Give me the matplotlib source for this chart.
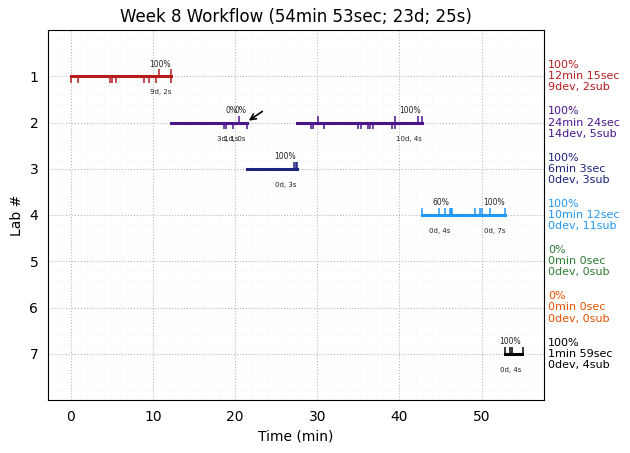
#!/usr/bin/env python
"""Timeline of labs for the week 8 workflow."""

import matplotlib
matplotlib.use("Agg")
import matplotlib.pyplot as plt

# lab number, colours and right hand summaries
LABS = [1, 2, 3, 4, 5, 6, 7]
COLOURS = ["#b71c1c", "#4a148c", "#1a237e", "#2196f3", "#2e7d32", "#e65100", "#000000"]
SUMMARIES = [
    "100%\n12min 15sec\n9dev, 2sub",
    "100%\n24min 24sec\n14dev, 5sub",
    "100%\n6min 3sec\n0dev, 3sub",
    "100%\n10min 12sec\n0dev, 11sub",
    "0%\n0min 0sec\n0dev, 0sub",
    "0%\n0min 0sec\n0dev, 0sub",
    "100%\n1min 59sec\n0dev, 4sub",
]

# time segments (start, end) in minutes for each lab
SEGMENTS = [
    [(0.0, 12.15)],
    [(12.2, 21.4), (27.55, 42.75)],
    [(21.45, 27.5)],
    [(42.8, 52.9)],
    [],
    [],
    [(52.9, 54.95)],
]

# minutes of dev events (ticks below the bar) and submissions (ticks above)
DEV_TIMES = [
    [0.0, 0.9, 4.7, 5.0, 5.5, 8.95, 9.55, 10.3, 12.15],
    [18.67, 18.9, 19.75, 21.45, 29.27, 29.5, 30.85, 35.0, 35.35, 36.2, 36.45, 36.8, 39.1, 39.4],
    [],
    [],
    [],
    [],
    [],
]
SUB_TIMES = [
    [10.75, 12.15],
    [20.4, 30.1, 39.5, 42.3, 42.8],
    [27.1, 27.35, 27.5],
    [42.8, 44.85, 45.6, 46.2, 46.3, 46.45, 49.25, 49.75, 50.1, 51.05, 52.9],
    [],
    [],
    [52.85, 53.4, 53.75, 55.0],
]

# per segment annotations: x position, percentage, dev/sub time
NOTE_LABS = [1, 2, 2, 2, 3, 4, 4, 7]
PERCENT_X = [10.9, 19.5, 20.7, 41.3, 26.1, 45.0, 51.5, 53.5]
PERCENTS = ["100%", "0%", "0%", "100%", "100%", "60%", "100%", "100%"]
DETAIL_X = [10.9, 19.05, 20.0, 41.2, 26.1, 44.9, 51.6, 53.5]
DETAILS = ["9d, 2s", "3d, 1s", "1d, 0s", "10d, 4s", "0d, 3s", "0d, 4s", "0d, 7s", "0d, 4s"]


def main():
    fig, ax = plt.subplots(figsize=(6.3, 4.53), dpi=100)

    for lab, colour, segments, devs, subs in zip(LABS, COLOURS, SEGMENTS, DEV_TIMES, SUB_TIMES):
        for start, end in segments:
            ax.plot([start, end], [lab, lab], color=colour, linewidth=2.2, zorder=3)
        ax.vlines(devs, lab, lab + 0.15, color=colour, linewidth=1.1, zorder=3)
        ax.vlines(subs, lab - 0.15, lab, color=colour, linewidth=1.1, zorder=3)

    for lab, x, text in zip(NOTE_LABS, PERCENT_X, PERCENTS):
        ax.text(x, lab - 0.26, text, fontsize=5.5, ha="center", va="center", color="#222222")
    for lab, x, text in zip(NOTE_LABS, DETAIL_X, DETAILS):
        ax.text(x, lab + 0.35, text, fontsize=5, ha="center", va="center", color="#222222")

    # the gap between the two parts of lab 2
    ax.annotate("", xy=(21.65, 1.96), xytext=(23.3, 1.76),
                arrowprops=dict(arrowstyle="->", color="black", linewidth=1.2,
                                shrinkA=0, shrinkB=0))

    # summaries sit just outside the right edge
    trans = ax.get_yaxis_transform()
    for lab, colour, text in zip(LABS, COLOURS, SUMMARIES):
        ax.text(1.008, lab, text, transform=trans, color=colour, fontsize=8,
                ha="left", va="center", linespacing=1.15)

    ax.set_xlim(-2.8, 57.6)
    ax.set_ylim(8, 0)
    ax.set_yticks(LABS)
    ax.set_xticks(range(0, 51, 10))
    ax.set_xticks(range(0, 56, 2), minor=True)
    ax.set_yticks([y / 5 for y in range(0, 41)], minor=True)
    # ticks keep their length so the labels stay clear, but are not drawn
    ax.tick_params(which="major", length=3.5, width=0)
    ax.tick_params(which="minor", length=0)
    ax.grid(which="major", color="#b8b8b8", linestyle=":", linewidth=0.8)
    ax.grid(which="minor", color="#b0b0b0", linestyle=":", linewidth=0.5, alpha=0.2)
    ax.set_axisbelow(True)

    ax.set_title("Week 8 Workflow (54min 53sec; 23d; 25s)", fontsize=12)
    ax.set_xlabel("Time (min)")
    ax.set_ylabel("Lab #")

    fig.subplots_adjust(left=48 / 630, right=544 / 630, top=1 - 30 / 453, bottom=1 - 400 / 453)
    fig.savefig("out.png", dpi=100)


if __name__ == "__main__":
    main()
